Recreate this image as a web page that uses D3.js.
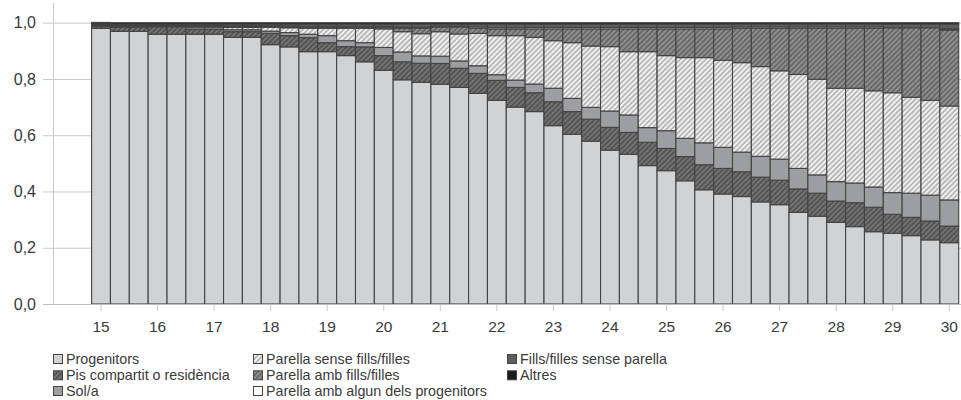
<!DOCTYPE html>
<html>
<head>
<meta charset="utf-8">
<script src="https://cdn.jsdelivr.net/npm/d3@7"></script>
<style>
  html, body { margin: 0; padding: 0; background: #fff; }
  svg { display: block; }
  text { font-family: "Liberation Sans", Arial, sans-serif; }
</style>
</head>
<body>
<svg id="chart" width="961" height="400"></svg>
<script>
// ---- DATA ----
const ages = [15, 15.33, 15.67, 16, 16.33, 16.67, 17, 17.33, 17.67, 18, 18.33, 18.67,
  19, 19.33, 19.67, 20, 20.33, 20.67, 21, 21.33, 21.67, 22, 22.33, 22.67,
  23, 23.33, 23.67, 24, 24.33, 24.67, 25, 25.33, 25.67, 26, 26.33, 26.67,
  27, 27.33, 27.67, 28, 28.33, 28.67, 29, 29.33, 29.67, 30];

const progenitors = [0.980, 0.969, 0.969, 0.959, 0.959, 0.959, 0.959, 0.948, 0.948, 0.922, 0.914, 0.897,
  0.897, 0.883, 0.861, 0.831, 0.797, 0.788, 0.781, 0.770, 0.749, 0.724, 0.700, 0.684,
  0.634, 0.603, 0.579, 0.547, 0.532, 0.492, 0.474, 0.438, 0.406, 0.391, 0.382, 0.363,
  0.353, 0.326, 0.312, 0.290, 0.275, 0.257, 0.251, 0.243, 0.228, 0.218];

const pisCompartit = [0.007, 0.016, 0.016, 0.027, 0.027, 0.018, 0.018, 0.020, 0.020, 0.040, 0.040, 0.050,
  0.032, 0.032, 0.053, 0.052, 0.064, 0.068, 0.074, 0.068, 0.071, 0.071, 0.070, 0.067,
  0.085, 0.081, 0.078, 0.081, 0.078, 0.083, 0.079, 0.086, 0.089, 0.091, 0.088, 0.088,
  0.087, 0.083, 0.082, 0.076, 0.085, 0.087, 0.068, 0.065, 0.067, 0.059];

const sola = [0.002, 0.001, 0.001, 0.001, 0.001, 0.007, 0.007, 0.007, 0.007, 0.008, 0.011, 0.012,
  0.025, 0.021, 0.015, 0.029, 0.035, 0.026, 0.026, 0.026, 0.027, 0.020, 0.026, 0.031,
  0.048, 0.047, 0.042, 0.058, 0.062, 0.052, 0.063, 0.065, 0.078, 0.075, 0.070, 0.074,
  0.075, 0.073, 0.065, 0.069, 0.070, 0.072, 0.077, 0.086, 0.092, 0.093];

const parellaSense = [0.001, 0.002, 0.002, 0.001, 0.001, 0.002, 0.002, 0.008, 0.008, 0.014, 0.017, 0.021,
  0.026, 0.044, 0.051, 0.066, 0.072, 0.079, 0.087, 0.096, 0.115, 0.139, 0.158, 0.166,
  0.169, 0.198, 0.218, 0.229, 0.225, 0.270, 0.267, 0.287, 0.303, 0.309, 0.318, 0.319,
  0.314, 0.334, 0.340, 0.332, 0.337, 0.342, 0.355, 0.341, 0.337, 0.334];

const parellaAmb = [0.000, 0.001, 0.001, 0.001, 0.001, 0.002, 0.002, 0.003, 0.003, 0.002, 0.003, 0.004,
  0.004, 0.004, 0.004, 0.006, 0.012, 0.019, 0.017, 0.025, 0.018, 0.023, 0.023, 0.030,
  0.042, 0.049, 0.061, 0.063, 0.081, 0.081, 0.095, 0.102, 0.102, 0.112, 0.122, 0.136,
  0.151, 0.164, 0.181, 0.213, 0.213, 0.222, 0.231, 0.247, 0.258, 0.270];

const parellaProgenitors = [0.003, 0.003, 0.003, 0.003, 0.003, 0.003, 0.003, 0.003, 0.003, 0.003, 0.003, 0.003,
  0.003, 0.003, 0.003, 0.003, 0.004, 0.004, 0.003, 0.003, 0.005, 0.005, 0.005, 0.005,
  0.005, 0.005, 0.005, 0.005, 0.005, 0.005, 0.005, 0.005, 0.005, 0.005, 0.005, 0.005,
  0.005, 0.005, 0.005, 0.005, 0.005, 0.005, 0.000, 0.000, 0.000, 0.004];

const fillsSenseParella = [0.003, 0.003, 0.003, 0.003, 0.003, 0.004, 0.004, 0.006, 0.006, 0.006, 0.007, 0.008,
  0.008, 0.008, 0.008, 0.008, 0.011, 0.011, 0.007, 0.007, 0.010, 0.013, 0.013, 0.012,
  0.012, 0.012, 0.012, 0.012, 0.012, 0.012, 0.012, 0.012, 0.012, 0.012, 0.010, 0.010,
  0.010, 0.010, 0.010, 0.010, 0.010, 0.010, 0.013, 0.013, 0.013, 0.017];

const altres = [0.005, 0.005, 0.005, 0.005, 0.005, 0.005, 0.005, 0.005, 0.005, 0.005, 0.005, 0.005,
  0.005, 0.005, 0.005, 0.005, 0.005, 0.005, 0.005, 0.005, 0.005, 0.005, 0.005, 0.005,
  0.005, 0.005, 0.005, 0.005, 0.005, 0.005, 0.005, 0.005, 0.005, 0.005, 0.005, 0.005,
  0.005, 0.005, 0.005, 0.005, 0.005, 0.005, 0.005, 0.005, 0.005, 0.005];

const seriesNames = ["Progenitors", "Pis compartit o residència", "Sol/a",
  "Parella sense fills/filles", "Parella amb fills/filles",
  "Parella amb algun dels progenitors", "Fills/filles sense parella", "Altres"];

const xTickAges = [15, 16, 17, 18, 19, 20, 21, 22, 23, 24, 25, 26, 27, 28, 29, 30];
const yTicks = [0, 0.2, 0.4, 0.6, 0.8, 1.0];

// ---- BUILD ----
const seriesArrays = [progenitors, pisCompartit, sola, parellaSense, parellaAmb,
  parellaProgenitors, fillsSenseParella, altres];
const table = ages.map((a, i) => {
  const row = { age: a };
  seriesNames.forEach((n, k) => row[n] = seriesArrays[k][i]);
  return row;
});

const fills = {
  "Progenitors": "#d1d2d4",
  "Pis compartit o residència": "url(#hatchDark)",
  "Sol/a": "#9d9ea1",
  "Parella sense fills/filles": "url(#hatchLight)",
  "Parella amb fills/filles": "url(#hatchMid)",
  "Parella amb algun dels progenitors": "#ffffff",
  "Fills/filles sense parella": "#5e5e5e",
  "Altres": "#1c1c1c"
};

const svg = d3.select("#chart");
const defs = svg.append("defs");
function hatch(id, bg, fg, w) {
  const p = defs.append("pattern").attr("id", id)
    .attr("patternUnits", "userSpaceOnUse")
    .attr("width", 3.6).attr("height", 3.6)
    .attr("patternTransform", "rotate(45)");
  p.append("rect").attr("width", 3.6).attr("height", 3.6).attr("fill", bg);
  p.append("line").attr("x1", 1).attr("x2", 1).attr("y1", 0).attr("y2", 3.6)
    .attr("stroke", fg).attr("stroke-width", w);
}
hatch("hatchLight", "#f0f0f0", "#9c9c9c", 1.2);
hatch("hatchMid", "#8e8e8e", "#5a5a5a", 1.3);
hatch("hatchDark", "#737373", "#474747", 1.3);

const x = d3.scaleBand().domain(ages).range([91.6, 958.7]).padding(0);
const y = d3.scaleLinear().domain([0, 1]).range([304, 22.7]);

const axisColor = "#c9c9c9";
const textColor = "#3a3a3a";

// gridlines + y ticks
const yAxis = svg.append("g").attr("transform", "translate(53,0)")
  .call(d3.axisLeft(y).tickValues(yTicks).tickSize(10)
    .tickFormat(d => d3.format(".1f")(d).replace(".", ",")));
yAxis.select(".domain").remove();
yAxis.selectAll(".tick line").attr("stroke", axisColor);
yAxis.selectAll(".tick text").attr("x", -17).attr("fill", textColor)
  .style("font-size", "16px");
yAxis.selectAll(".tick").append("line")
  .attr("x1", 0).attr("x2", 908).attr("stroke", axisColor);
svg.append("line").attr("x1", 53.5).attr("x2", 53.5).attr("y1", 3).attr("y2", 304)
  .attr("stroke", axisColor);

// bars
const stack = d3.stack().keys(seriesNames);
const stacked = stack(table);
svg.append("g").selectAll("g").data(stacked).join("g")
  .attr("fill", d => fills[d.key])
  .selectAll("rect").data(d => d).join("rect")
  .attr("x", d => x(d.data.age))
  .attr("width", x.bandwidth())
  .attr("y", d => y(d[1]))
  .attr("height", d => Math.max(0, y(d[0]) - y(d[1])))
  .attr("stroke", "#434343")
  .attr("stroke-width", 1.1);

// x axis
const xPos = a => x(ages.find(v => Math.abs(v - a) < 0.01)) + x.bandwidth() / 2;
const xg = svg.append("g");
xg.append("line").attr("x1", 43).attr("x2", 961).attr("y1", 304.5).attr("y2", 304.5)
  .attr("stroke", "#bdbdbd").attr("stroke-width", 1.2);
const xt = xg.selectAll("g.xt").data(xTickAges).join("g").attr("class", "xt")
  .attr("transform", d => `translate(${xPos(d)},0)`);
xt.append("line").attr("y1", 305).attr("y2", 311).attr("stroke", axisColor);
xt.append("text").attr("y", 331.5).attr("text-anchor", "middle")
  .attr("fill", textColor).style("font-size", "15.5px").text(d => d);

// legend
const legendCols = [53, 253, 507];
const legendRows = [364, 380.3, 396];
const legendPos = [[0,0],[0,1],[0,2],[1,0],[1,1],[1,2],[2,0],[2,1]];
const lg = svg.append("g").selectAll("g").data(seriesNames).join("g")
  .attr("transform", (d, i) => `translate(${legendCols[legendPos[i][0]]},${legendRows[legendPos[i][1]]})`);
lg.append("rect").attr("x", 0.5).attr("y", -9.5).attr("width", 9).attr("height", 9)
  .attr("fill", d => fills[d]).attr("stroke", "#444").attr("stroke-width", 1);
lg.append("text").attr("x", 13).attr("y", 0).attr("fill", textColor)
  .style("font-size", "14.3px").text(d => d);
</script>
</body>
</html>
